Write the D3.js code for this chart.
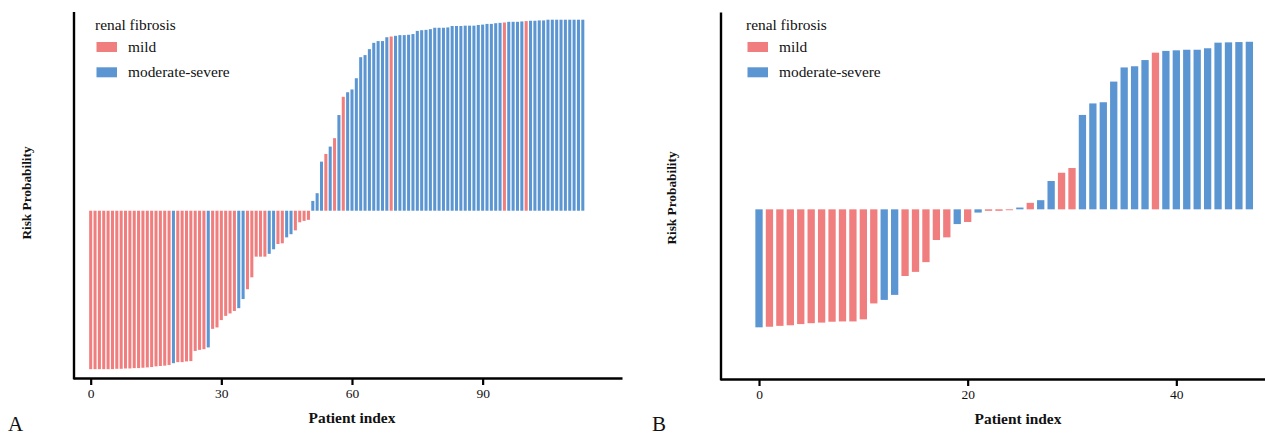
<!DOCTYPE html>
<html>
<head>
<meta charset="utf-8">
<script src="https://cdn.jsdelivr.net/npm/d3@7"></script>
<style>
  body { margin: 0; background: #fff; }
  text { font-family: "Liberation Serif", "Times New Roman", serif; fill: #111; }
</style>
</head>
<body>
<script>
// groups: 0 = mild, 1 = moderate-severe
var categories = ["mild", "moderate-severe"];
var colors = ["#F07E7E", "#5B96D2"];

// panel A: risk probability per patient (sorted), cutoff where bars turn
var probA = [
  0.001, 0.001, 0.001, 0.001, 0.001, 0.001, 0.002, 0.002, 0.003, 0.003,
  0.004, 0.004, 0.005, 0.006, 0.007, 0.009, 0.010, 0.011, 0.013,
  0.018, 0.021, 0.021, 0.023, 0.024, 0.053, 0.056, 0.058, 0.063,
  0.116, 0.120, 0.141, 0.153, 0.160, 0.167, 0.175, 0.201, 0.229, 0.263,
  0.322, 0.322, 0.322, 0.330, 0.343, 0.358, 0.360, 0.377, 0.386, 0.397,
  0.420, 0.424, 0.427,
  0.481, 0.503, 0.593, 0.615, 0.636, 0.660, 0.726, 0.778, 0.791, 0.799,
  0.831, 0.891, 0.897, 0.914, 0.932, 0.937, 0.937, 0.948, 0.950, 0.952,
  0.954, 0.954, 0.955, 0.957, 0.966,
  0.968, 0.969, 0.971, 0.975, 0.975, 0.975, 0.976, 0.980, 0.980, 0.980,
  0.981, 0.981, 0.981, 0.983, 0.984, 0.986, 0.986, 0.988, 0.989, 0.990,
  0.992, 0.992, 0.992, 0.993, 0.994, 0.995, 0.995, 0.996, 0.996,
  0.998, 0.998, 0.998, 0.998, 0.998, 0.998, 0.998, 0.998, 0.998
];
var groupA = [
  0,0,0,0,0,0,0,0,0,0,0,0,0,0,0,0,0,0,0,
  1,0,0,0,0,0,0,0,1,0,0,0,0,0,0,1,1,0,0,0,0,0,1,1,0,0,1,1,0,0,0,0,
  1,1,1,0,1,0,1,0,1,1,1,1,1,1,1,1,1,1,0,
  1,1,1,1,1,1,1,1,1,1,1,1,1,1,1,1,1,1,1,1,1,1,1,1,1,
  0,1,1,1,1,0,1,1,1,1,1,1,1,1,1,1,1,1,1
];
var cutoffA = 0.453;
var ticksA = [0, 30, 60, 90];

// panel B
var probB = [
  0.026, 0.028, 0.031, 0.033, 0.037, 0.040, 0.042, 0.045, 0.046, 0.046,
  0.053, 0.107, 0.119, 0.136, 0.200, 0.214, 0.247, 0.322, 0.331, 0.376,
  0.383, 0.415, 0.421, 0.421, 0.423, 0.432, 0.448, 0.457, 0.522, 0.550,
  0.566, 0.746, 0.785, 0.789, 0.859, 0.907, 0.911, 0.932, 0.957, 0.963,
  0.965, 0.967, 0.967, 0.972, 0.991, 0.992, 0.993, 0.994
];
var groupB = [
  1,0,0,0,0,0,0,0,0,0,0,0,1,1,0,0,0,0,0,1,
  0,1,0,0,0,1,0,1,1,0,0,1,1,1,1,1,1,1,0,1,
  1,1,1,1,1,1,1,1
];
var cutoffB = 0.426;
var ticksB = [0, 20, 40];

var W = 1265, H = 436;
var svg = d3.select("body").append("svg")
            .attr("width", W)
            .attr("height", H);

svg.append("rect").attr("width", W).attr("height", H).attr("fill", "#fff");

function drawPanel(p) {
    var g = svg.append("g");

    // x: linear over patient index, extended so the domain path spans the whole axis line
    var xScale = d3.scaleLinear()
                   .domain(p.xDomain)
                   .range([p.left, p.right]);
    var step = xScale(1) - xScale(0);
    var bw = step * 0.7;

    var yScale = d3.scaleLinear()
                   .domain([0, 1])
                   .range(p.yRange);

    var y0 = yScale(p.cutoff);

    g.selectAll("rect.bar")
        .data(p.prob)
        .enter()
        .append("rect")
        .attr("class", "bar")
        .attr("x", (d, i) => xScale(i) - bw / 2)
        .attr("y", d => Math.min(yScale(d), y0))
        .attr("width", bw)
        .attr("height", d => Math.max(Math.abs(yScale(d) - y0), 0.8))
        .attr("fill", (d, i) => colors[p.group[i]]);

    var xAxis = d3.axisBottom(xScale)
                  .tickValues(p.ticks)
                  .tickSize(7)
                  .tickSizeOuter(0)
                  .tickPadding(3);

    var ax = g.append("g")
              .attr("transform", "translate(0," + p.bottom + ")")
              .call(xAxis);
    ax.select(".domain").attr("stroke", "#000").attr("stroke-width", 2.4);
    ax.selectAll(".tick line").attr("stroke", "#000").attr("stroke-width", 2.2);
    ax.selectAll(".tick text")
      .style("font-family", "Liberation Serif")
      .style("font-size", "13.5px")
      .attr("fill", "#111");

    // y axis line, no ticks
    g.append("line")
        .attr("x1", p.left + 1).attr("x2", p.left + 1)
        .attr("y1", p.top).attr("y2", p.bottom + 1.2)
        .attr("stroke", "#000")
        .attr("stroke-width", 2.4);

    g.append("text")
        .attr("x", p.xTitleX)
        .attr("y", p.bottom + 44.5)
        .attr("text-anchor", "middle")
        .style("font-weight", "bold")
        .style("font-size", "15.4px")
        .text("Patient index");

    g.append("text")
        .attr("transform", "translate(" + p.yTitleX + "," + p.yTitleY + ") rotate(-90)")
        .attr("text-anchor", "middle")
        .style("font-weight", "bold")
        .style("font-size", "13.3px")
        .text("Risk Probability");

    // legend
    var lg = g.append("g").attr("transform", "translate(" + p.legendX + ",0)");
    lg.append("text")
        .attr("x", -1.5)
        .attr("y", 30)
        .style("font-size", "15.4px")
        .text("renal fibrosis");

    var items = lg.selectAll("g.item")
                  .data(categories)
                  .enter()
                  .append("g")
                  .attr("class", "item")
                  .attr("transform", (d, i) => "translate(0," + (42 + i * 25.3) + ")");
    items.append("rect")
        .attr("width", 20.5)
        .attr("height", 10)
        .attr("fill", (d, i) => colors[i]);
    items.append("text")
        .attr("x", 31.5)
        .attr("y", 10)
        .style("font-size", "15.4px")
        .text(d => d);

    svg.append("text")
        .attr("x", p.tagX)
        .attr("y", 431)
        .style("font-size", "21px")
        .attr("fill", "#444")
        .text(p.tag);
}

drawPanel({
    prob: probA, group: groupA, cutoff: cutoffA, ticks: ticksA,
    xDomain: [-4.06, 122], left: 73, right: 622,
    yRange: [369.5, 19], top: 12, bottom: 378,
    xTitleX: 352, yTitleX: 31, yTitleY: 193,
    legendX: 96.5, tag: "A", tagX: 8
});

drawPanel({
    prob: probB, group: groupB, cutoff: cutoffB, ticks: ticksB,
    xDomain: [-3.74, 48.5], left: 720, right: 1265,
    yRange: [335, 40], top: 12.5, bottom: 379,
    xTitleX: 1018, yTitleX: 676, yTitleY: 198,
    legendX: 747.5, tag: "B", tagX: 652
});
</script>
</body>
</html>
